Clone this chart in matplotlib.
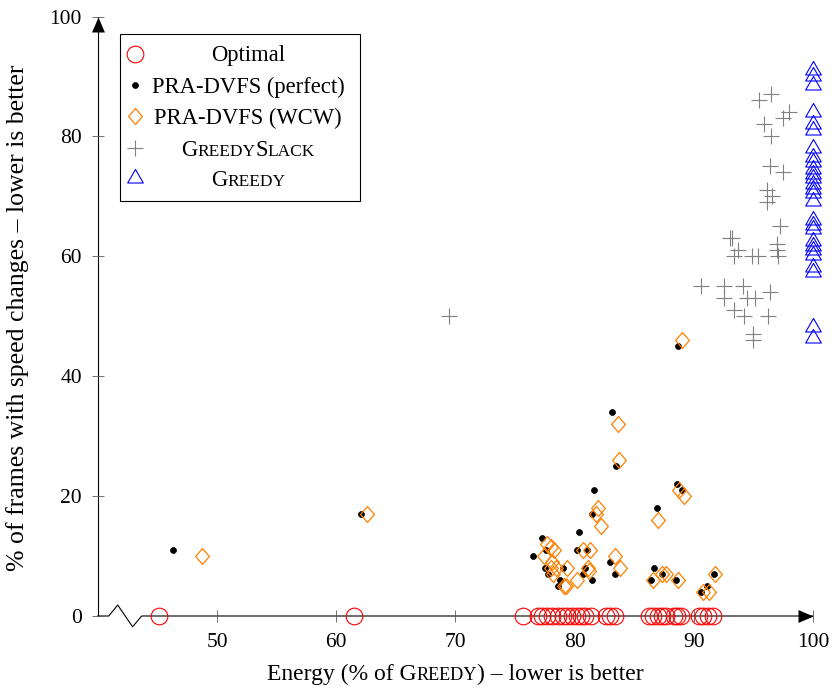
import matplotlib
matplotlib.use("Agg")
import matplotlib.pyplot as plt
from matplotlib.path import Path
from matplotlib.lines import Line2D
from matplotlib.patches import Rectangle
from matplotlib.offsetbox import TextArea, HPacker, AnnotationBbox

plt.rcParams['font.family'] = ['Liberation Serif', 'DejaVu Serif']

# ---------------------------------------------------------------- data
optimal_x = [45.1, 61.5, 75.7, 76.9, 77.3, 77.7, 78.1, 78.6, 79.0, 79.4,
             79.8, 80.2, 80.5, 80.9, 81.4, 82.6, 83.0, 83.4, 86.2, 86.6,
             87.0, 87.3, 87.7, 88.3, 88.6, 88.9, 90.4, 90.8, 91.2, 91.6]
optimal_y = [0] * len(optimal_x)

perfect_x = [46.3, 62.1, 76.5, 77.3, 77.6, 77.5, 77.8, 78.6, 78.8, 79.0,
             80.2, 80.35, 80.7, 80.9, 81.0, 81.5, 81.5, 81.6, 83.0, 83.4,
             83.1, 83.5, 86.4, 86.7, 86.9, 87.3, 88.5, 88.6, 89.0, 88.7,
             90.6, 91.1, 91.7]
perfect_y = [11, 17, 10, 13, 11, 8, 7, 5, 6, 8,
             11, 14, 7, 8, 11, 6, 17, 21, 9, 7,
             34, 25, 6, 8, 18, 7, 6, 22, 21, 45,
             4, 5, 7]

wcw_x = [48.7, 62.6, 77.4, 77.7, 78.0, 78.3, 78.1, 78.0, 78.4, 78.2,
         79.4, 79.1, 79.3, 80.2, 80.7, 81.3, 81.1, 81.2, 81.8, 82.0,
         82.2, 83.4, 83.8, 83.6, 83.7, 86.6, 87.0, 87.3, 87.7, 88.7,
         88.8, 89.2, 89.0, 90.8, 91.3, 91.8]
wcw_y = [10, 17, 10, 12, 11.5, 11, 9, 8, 8, 7,
         8, 5, 5, 6, 11, 11, 8, 7.5, 17, 18,
         15, 10, 8, 32, 26, 6, 16, 7, 7, 6,
         21, 20, 46, 4, 4, 7]

slack_x = [69.5, 95.5, 96.5, 98.0, 97.5, 95.9, 96.5, 96.4, 97.5, 96.1,
           96.6, 96.1, 97.2, 93.0, 93.2, 93.7, 93.4, 94.9, 95.4, 97.0,
           97.0, 97.1, 90.6, 92.5, 94.1, 92.5, 94.5, 95.1, 96.4, 93.4,
           94.2, 96.2, 95.0, 95.0]
slack_y = [50, 86, 87, 84, 83, 82, 80, 75, 74, 71,
           70, 69, 65, 63, 63, 61, 60, 60, 60, 62,
           61, 60, 55, 55, 55, 53, 53, 53, 54, 51,
           50, 50, 47, 46]

greedy_y = [91, 90, 88.5, 84, 82, 81, 78, 76.5, 75.7, 74.6,
            73.8, 73, 72, 71.3, 70.5, 69.3, 66, 65.2, 64.6, 62.6,
            61.8, 61, 60.2, 58.2, 57.4, 48.2, 46.3]
greedy_x = [100] * len(greedy_y)

x_ticks = [50, 60, 70, 80, 90, 100]
y_ticks = [0, 20, 40, 60, 80, 100]

# ---------------------------------------------------------------- styles
FS_TICK = 15.5
FS_XLAB = 17
FS_YLAB = 18.5
FS_LEG = 16.3
W, H = 832, 690

diamond = Path([(0, 1), (0.86, 0), (0, -1), (-0.86, 0), (0, 1)],
               [Path.MOVETO, Path.LINETO, Path.LINETO, Path.LINETO, Path.CLOSEPOLY])
triangle = Path([(0, 1), (-0.866, -0.5), (0.866, -0.5), (0, 1)],
                [Path.MOVETO, Path.LINETO, Path.LINETO, Path.CLOSEPOLY])
arrow_right = Path([(0, 0), (-1, 0.43), (-1, -0.43), (0, 0)],
                   [Path.MOVETO, Path.LINETO, Path.LINETO, Path.CLOSEPOLY])
arrow_up = Path([(0, 0), (-0.43, -1), (0.43, -1), (0, 0)],
                [Path.MOVETO, Path.LINETO, Path.LINETO, Path.CLOSEPOLY])

series_styles = [
    dict(marker='o', ms=12, mfc='none', mec='#ff0000', mew=0.8),
    dict(marker='o', ms=4.3, mfc='black', mec='black', mew=0.5),
    dict(marker=diamond, ms=11.5, mfc='none', mec='#ff8000', mew=0.9),
    dict(marker='+', ms=11, mfc='none', mec='#808080', mew=0.8),
    dict(marker=triangle, ms=13, mfc='none', mec='#0000ff', mew=0.8),
]

# ---------------------------------------------------------------- figure
fig = plt.figure(figsize=(W / 100, H / 100), dpi=100)
ax = fig.add_axes([97.8 / W, 1 - 616 / H, (813 - 97.8) / W, (616 - 16.5) / H])
ax.set_xlim(40, 100)
ax.set_ylim(0, 100)
for s in ax.spines.values():
    s.set_visible(False)

ax.set_xticks(x_ticks)
ax.set_yticks(y_ticks)
ax.tick_params(direction='inout', length=8, width=0.6, color='0.35',
               labelsize=FS_TICK)
ax.tick_params(axis='x', pad=8.5)
ax.tick_params(axis='y', pad=7.4)

# axis lines with a break mark on the x axis and arrow heads
ax.plot([40, 40.92, 41.67, 42.92, 43.68, 100], [0, 0, 1.83, -1.8, 0, 0],
        color='black', lw=0.8, clip_on=False, zorder=1)
ax.plot([40, 40], [0, 100], color='black', lw=0.8, clip_on=False, zorder=1)
ax.plot([100], [0], marker=arrow_right, ms=21.6, color='black', mew=0,
        clip_on=False, zorder=5)
ax.plot([40], [100], marker=arrow_up, ms=21.6, color='black', mew=0,
        clip_on=False, zorder=5)

data = [(optimal_x, optimal_y), (perfect_x, perfect_y), (wcw_x, wcw_y),
        (slack_x, slack_y), (greedy_x, greedy_y)]
for (xs, ys), st in zip(data, series_styles):
    ax.plot(xs, ys, ls='none', clip_on=False, zorder=3, **st)


def px(x, y):
    return x / W, 1 - y / H


def smallcaps_box(parts, size):
    """parts: list of (text, is_small)"""
    kids = []
    for t, small in parts:
        kids.append(TextArea(t, textprops=dict(size=size * (0.77 if small else 1.0),
                                               color='black')))
    return HPacker(children=kids, align='baseline', pad=0, sep=0)


def place(box, x, y):
    ab = AnnotationBbox(box, px(x, y), xycoords='figure fraction',
                        frameon=False, box_alignment=(0.5, 0.5), pad=0)
    ab.set_zorder(7)
    fig.add_artist(ab)


# axis labels
place(smallcaps_box([("Energy (% of G", False), ("REEDY", True),
                     (") – lower is better", False)], FS_XLAB), 455.4, 674)
fig.text(*px(18, 318), "% of frames with speed changes – lower is better",
         rotation=90, ha='center', va='center', size=FS_YLAB)

# legend
fig.add_artist(Rectangle(px(120, 201), 240 / W, 167 / H, transform=fig.transFigure,
                         facecolor='white', edgecolor='black', lw=0.8, zorder=4))
legend_labels = [
    [("Optimal", False)],
    [("PRA-DVFS (perfect)", False)],
    [("PRA-DVFS (WCW)", False)],
    [("G", False), ("REEDY", True), ("S", False), ("LACK", True)],
    [("G", False), ("REEDY", True)],
]
rows = [54, 85, 116, 148, 178]
for lab, row, st in zip(legend_labels, rows, series_styles):
    fig.add_artist(Line2D([px(135, row)[0]], [px(135, row)[1]], ls='none',
                          transform=fig.transFigure, zorder=5, **st))
    place(smallcaps_box(lab, FS_LEG), 248, row + 2)

fig.savefig("out.png", dpi=100)
